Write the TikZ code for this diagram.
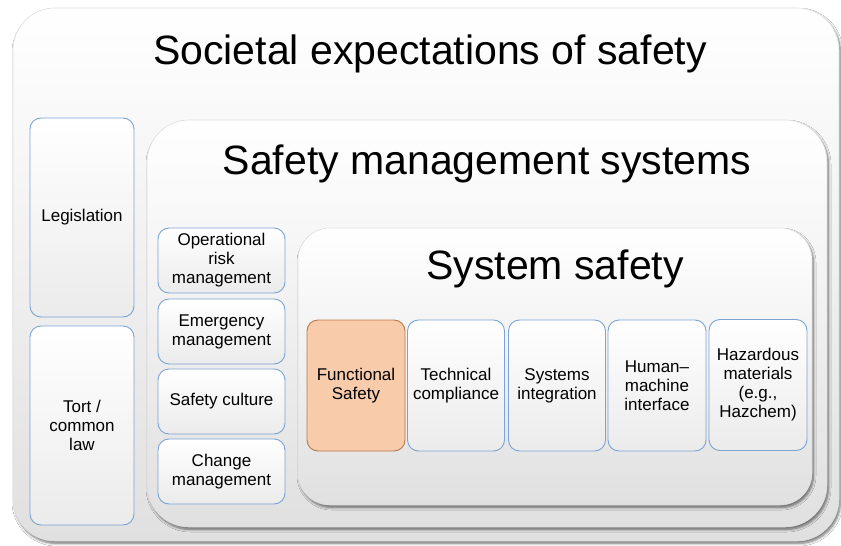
\documentclass[tikz,border=0pt]{standalone}
\usepackage{fontspec}
\setmainfont{Liberation Sans}
\usetikzlibrary{shadows.blur}
\definecolor{itemblue}{HTML}{7BA4D2}
\definecolor{peach}{HTML}{F8CBAA}
\definecolor{peachline}{HTML}{B87A4E}
\definecolor{panelbot}{HTML}{E0E0E0}
\definecolor{itembot}{HTML}{EBEBEB}
\tikzset{
  panel/.style={draw=gray!25, line width=0.6pt, top color=white, bottom color=panelbot,
    blur shadow={shadow xshift=1.5pt, shadow yshift=-2.5pt, shadow blur steps=6,
      shadow blur radius=2.5pt, shadow opacity=55}},
  item/.style={draw=itemblue, line width=0.9pt, rounded corners=11pt,
    top color=white, bottom color=itembot, align=center,
    font=\fontsize{17}{19}\selectfont, inner sep=2pt},
  hot/.style={item, draw=peachline, top color=peach, bottom color=peach},
  title/.style={font=\fontsize{41}{44}\selectfont, anchor=base},
}
\begin{document}
\begin{tikzpicture}[x=1pt,y=-1pt]
\useasboundingbox[fill=white] (0,0) rectangle (841,546);

% outer panel: societal expectations
\node[panel, rounded corners=42pt, minimum width=826pt, minimum height=533pt, inner sep=0pt]
  (society) at (426,274.5) {};
\node[title] (societyt) at (430,64) {Societal expectations of safety};

% legal instruments
\node[item, minimum width=104pt, minimum height=199pt] (leg) at (82,217.5) {Legislation};
\node[item, minimum width=104pt, minimum height=199pt] (tort) at (82,425.5) {Tort /\\common\\law};

% safety management systems panel
\node[panel, rounded corners=42pt, minimum width=680pt, minimum height=407pt, inner sep=0pt]
  (sms) at (487,323.5) {};
\node[title] (smst) at (487,174) {Safety management systems};

\node[item, minimum width=127pt, minimum height=65pt] (orm) at (221.5,260.5) {Operational\\risk\\management};
\node[item, minimum width=127pt, minimum height=65pt] (em) at (221.5,331.5) {Emergency\\management};
\node[item, minimum width=127pt, minimum height=65pt] (sc) at (221.5,401.5) {Safety culture};
\node[item, minimum width=127pt, minimum height=65pt] (cm) at (221.5,471.5) {Change\\management};

% system safety panel
\node[panel, rounded corners=32pt, minimum width=514pt, minimum height=277pt, inner sep=0pt]
  (ss) at (555,366.5) {};
\node[title] (sst) at (555,279) {System safety};

\node[hot, minimum width=98pt, minimum height=131pt] (fs) at (356,385.5) {Functional\\Safety};
\node[item, minimum width=97pt, minimum height=131pt] (tc) at (456,385.5) {Technical\\compliance};
\node[item, minimum width=97pt, minimum height=131pt] (si) at (557,385.5) {Systems\\integration};
\node[item, minimum width=98pt, minimum height=131pt] (hmi) at (657,385.5) {Human--\\machine\\interface};
\node[item, minimum width=98pt, minimum height=131pt] (haz) at (758,385) {Hazardous\\materials\\(e.g.,\\Hazchem)};
\end{tikzpicture}
\end{document}
